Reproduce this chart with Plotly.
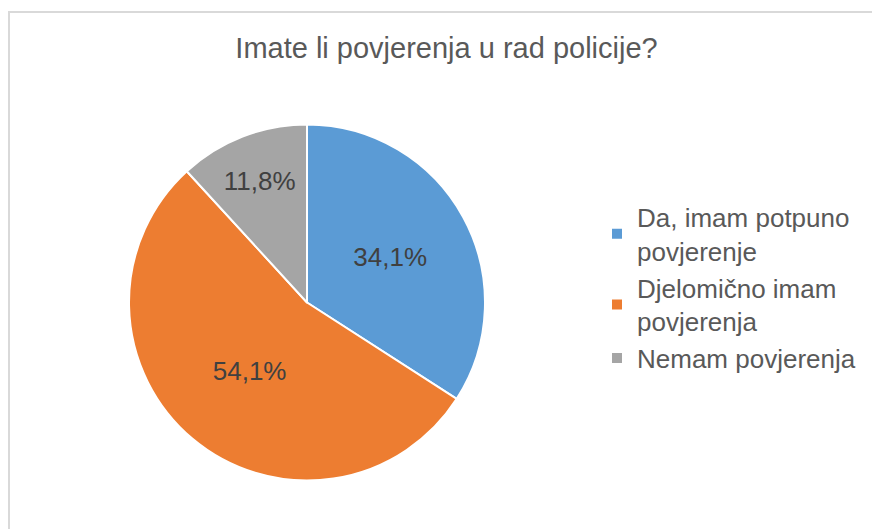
import plotly.graph_objects as go

# ── Data ──────────────────────────────────────────────────────────────────────
labels = ["Da, imam potpuno<br>povjerenje", "Djelomično imam<br>povjerenja", "Nemam povjerenja"]
values = [34.1, 54.1, 11.8]
colors = ["#5B9BD5", "#ED7D31", "#A5A5A5"]

W, H = 872, 529
FONT = "Liberation Sans, Arial, sans-serif"

pct_text = [f"{v:.1f}%".replace(".", ",") for v in values]

# ── Pie geometry (pixels -> paper) ────────────────────────────────────────────
cx, cy, r = 307, 302.5, 178

fig = go.Figure()
fig.add_trace(go.Pie(
    labels=labels,
    values=values,
    text=pct_text,
    textinfo="text",
    textposition="inside",
    insidetextorientation="horizontal",
    textfont=dict(size=26, color="#404040", family=FONT),
    sort=False,
    direction="clockwise",
    rotation=0,
    marker=dict(colors=colors, line=dict(color="#FFFFFF", width=2)),
    domain=dict(x=[(cx - r) / W, (cx + r) / W], y=[1 - (cy + r) / H, 1 - (cy - r) / H]),
    hoverinfo="label+text",
))

fig.update_layout(
    width=W, height=H,
    margin=dict(l=0, r=0, t=0, b=0),
    paper_bgcolor="#FFFFFF",
    font=dict(family=FONT, color="#595959"),
    title=dict(
        text="Imate li povjerenja u rad policije?",
        font=dict(size=29, color="#595959", family=FONT),
        x=446.5 / W, xanchor="center",
        y=1 - 48 / H, yanchor="middle",
        yref="paper", xref="paper",
    ),
    legend=dict(
        x=597 / W, xanchor="left",
        y=1 - 288 / H, yanchor="middle",
        font=dict(size=26, color="#595959", family=FONT),
        bgcolor="rgba(0,0,0,0)",
    ),
    shapes=[dict(
        type="rect", xref="paper", yref="paper",
        x0=9 / W, x1=1.05, y0=-0.05, y1=1 - 12 / H,
        line=dict(color="#D9D9D9", width=2),
    )],
)

# drop the default 8px page margin so the figure fills the window exactly
fig.write_html("out.html", config={"displayModeBar": False},
               post_script="document.body.style.margin='0';")
